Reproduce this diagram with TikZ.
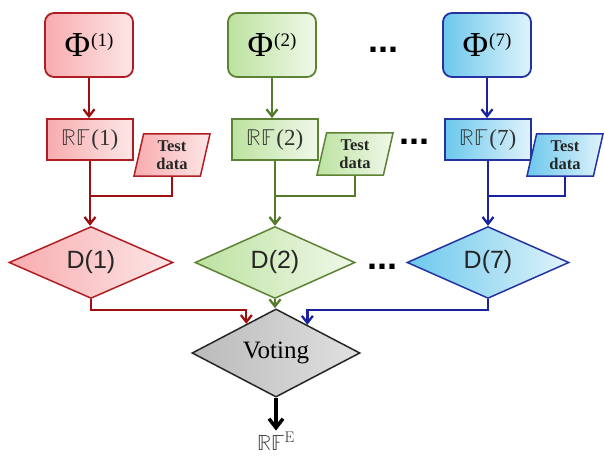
\documentclass[tikz,border=0pt]{standalone}
\usepackage{fontspec}
\usepackage{unicode-math}
\setmathfont{Latin Modern Math}
\newfontfamily\dsans{Liberation Sans}
\newfontfamily\tserif{Liberation Serif}
\usetikzlibrary{shapes.geometric,arrows.meta,calc}
\definecolor{redB}{HTML}{B01E23}
\definecolor{redA}{HTML}{A00F0F}
\definecolor{redL}{HTML}{F8ACAF}
\definecolor{redR}{HTML}{FDE6E6}
\definecolor{grnB}{HTML}{5E8233}
\definecolor{grnA}{HTML}{557A2C}
\definecolor{grnL}{HTML}{BCE2A0}
\definecolor{grnR}{HTML}{F0F8E9}
\definecolor{bluB}{HTML}{2433A0}
\definecolor{bluA}{HTML}{1A22A0}
\definecolor{bluL}{HTML}{6CC8EC}
\definecolor{bluR}{HTML}{E0F3FB}
\definecolor{txtg}{HTML}{333333}
\newcommand{\phisup}[1]{{\tserif Φ}\kern1pt\raisebox{10pt}{\tserif\fontsize{19}{19}\selectfont(#1)}}
\newcommand{\rflabel}[1]{$\mathbb{RF}$\kern1pt{\tserif(#1)}}
\tikzset{
  redc/.style={draw=redB, left color=redL, right color=redR},
  grnc/.style={draw=grnB, left color=grnL, right color=grnR},
  bluc/.style={draw=bluB, left color=bluL, right color=bluR},
  phibox/.style={rectangle, rounded corners=9pt, line width=1.8pt, minimum width=88pt, minimum height=64pt, inner sep=0pt, text=black, font=\fontsize{35}{40}\selectfont},
  rfbox/.style={rectangle, line width=1.8pt, minimum width=86pt, minimum height=41pt, inner sep=0pt, text=txtg, font=\fontsize{23}{26}\selectfont},
  testbox/.style={trapezium, trapezium left angle=72, trapezium right angle=108, trapezium stretches body, line width=1.5pt, minimum width=76pt, minimum height=42pt, inner sep=0pt, align=center, text=black!85, font=\tserif\bfseries\fontsize{16.5}{18.5}\selectfont},
  dbox/.style={diamond, line width=1.5pt, inner sep=0pt, minimum height=59pt, font=\dsans\fontsize{25}{28}\selectfont, text=black!85},
  dotsnode/.style={anchor=base, inner sep=0pt, font=\dsans\bfseries\fontsize{36}{40}\selectfont},
  line/.style={line width=2.3pt},
  tip/.style={-{Straight Barb[length=7pt,width=11pt]}},
  redl/.style={line, draw=redA}, grnl/.style={line, draw=grnA}, blul/.style={line, draw=bluA},
}
\begin{document}
\begin{tikzpicture}[x=1pt,y=-1pt]
\useasboundingbox[fill=white] (0,0) rectangle (604,457);
% Phi boxes
\node[phibox, redc] (p1) at (89,45) {\phisup{1}};
\node[phibox, grnc] (p2) at (272,45) {\phisup{2}};
\node[phibox, bluc] (p7) at (487,45) {\phisup{7}};
\node[dotsnode] (dt1) at (383,53) {...};
% RF boxes
\node[rfbox, redc] (r1) at (90,139.5) {\rflabel{1}};
\node[rfbox, grnc] (r2) at (275,139.5) {\rflabel{2}};
\node[rfbox, bluc] (r7) at (488,139.5) {\rflabel{7}};
\node[dotsnode] (dt2) at (414,145) {...};
% test data
\node[testbox, redc] (t1) at (172,155) {Test\\data};
\node[testbox, grnc] (t2) at (355,154) {Test\\data};
\node[testbox, bluc] (t7) at (565,155) {Test\\data};
% decisions
\node[dbox, redc, minimum width=164pt] (d1) at (91,262.5) {D(1)};
\node[dbox, grnc, minimum width=160pt] (d2) at (275,262.5) {D(2)};
\node[dbox, bluc, minimum width=162pt] (d7) at (488,262.5) {D(7)};
\node[dotsnode] (dt3) at (382,269) {...};
% voting
\node[diamond, line width=1.5pt, inner sep=0pt, minimum width=168pt, minimum height=70pt, draw=black!85, left color=black!27, right color=black!12, text=black, font=\tserif\fontsize{25}{28}\selectfont] (vote) at (276,353) {Voting};
\node[inner sep=1pt, text=txtg, font=\fontsize{22}{26}\selectfont] (rfe) at (276,441) {$\mathbb{RF}^{\mathrm{E}}$};
% connectors
\draw[redl, tip] (p1.south) -- (p1.south |- r1.north);
\draw[grnl, tip] (p2.south) -- (p2.south |- r2.north);
\draw[blul, tip] (p7.south) -- (p7.south |- r7.north);
\draw[redl, tip] (r1.south) -- (r1.south |- d1.north);
\draw[grnl, tip] (r2.south) -- (r2.south |- d2.north);
\draw[blul, tip] (r7.south) -- (r7.south |- d7.north);
\path (r1.south) ++(0,35) coordinate (j1);
\path (r2.south) ++(0,35) coordinate (j2);
\path (r7.south) ++(0,35) coordinate (j7);
\draw[redl] (t1.center |- t1.south) |- (j1);
\draw[grnl] (t2.center |- t2.south) |- (j2);
\draw[blul] (t7.center |- t7.south) |- (j7);
\draw[redl, tip] (d1.south) -- ++(0,11) -| ($(vote.west)!0.65!(vote.north)$);
\draw[grnl, tip] (d2.south) -- (d2.south |- vote.north);
\draw[blul, tip] (d7.south) -- ++(0,11) -| ($(vote.north)!0.37!(vote.east)$);
\draw[line width=3.5pt, -{Straight Barb[length=9pt,width=14pt]}] (vote.south) -- (rfe.north);
\end{tikzpicture}
\end{document}
